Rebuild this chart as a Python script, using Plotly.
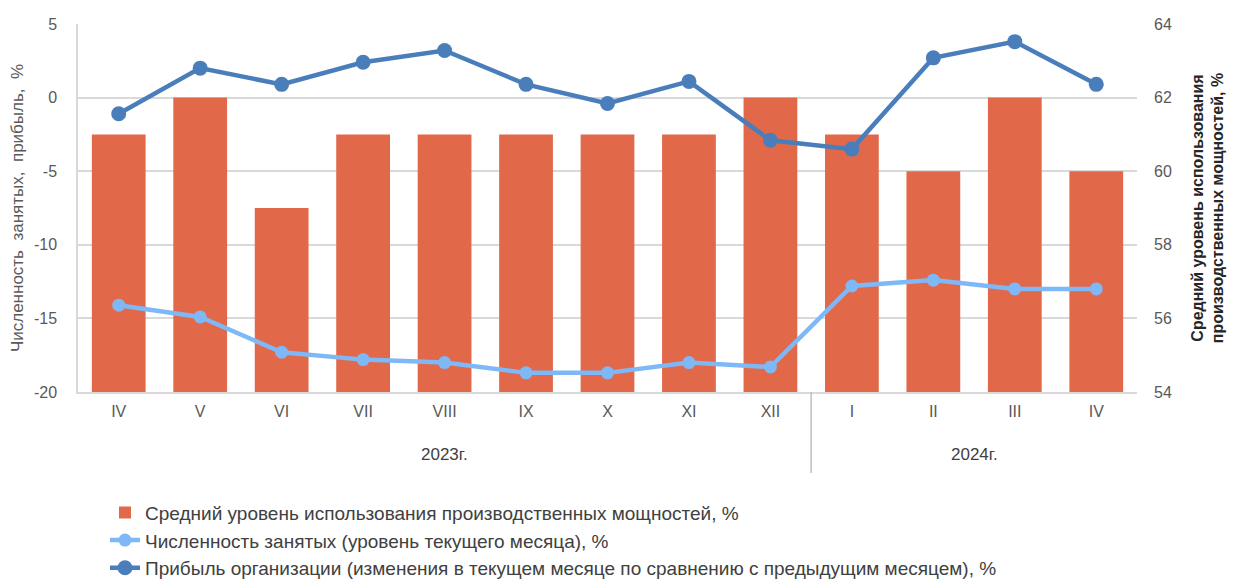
import plotly.graph_objects as go

months = ["IV", "V", "VI", "VII", "VIII", "IX", "X", "XI", "XII", "I", "II", "III", "IV"]
years = ["2023г."] * 9 + ["2024г."] * 4
capacity = [61, 62, 59, 61, 61, 61, 61, 61, 62, 61, 60, 62, 60]
employment = [-14.1, -14.9, -17.3, -17.8, -18.0, -18.7, -18.7, -18.0, -18.3, -12.8, -12.4, -13.0, -13.0]
profit = [-1.1, 2.0, 0.9, 2.4, 3.2, 0.9, -0.4, 1.1, -2.9, -3.5, 2.7, 3.8, 0.9]
left_ticks = [-20, -15, -10, -5, 0, 5]
right_ticks = [54, 56, 58, 60, 62, 64]

x_idx = list(range(len(months)))

fig = go.Figure()
fig.add_trace(go.Bar(
    x=x_idx, y=capacity, yaxis="y",
    name="Средний уровень использования производственных мощностей, %",
    marker=dict(color="#E2684A", line=dict(width=0)),
))
fig.add_trace(go.Scatter(
    x=x_idx, y=employment, yaxis="y2", mode="lines+markers",
    name="Численность занятых (уровень текущего месяца), %",
    line=dict(color="#7EB8F6", width=4.5),
    marker=dict(color="#7EB8F6", size=13),
))
fig.add_trace(go.Scatter(
    x=x_idx, y=profit, yaxis="y2", mode="lines+markers",
    name="Прибыль организации (изменения в текущем месяце по сравнению с предыдущим месяцем), %",
    line=dict(color="#4A7EBB", width=4.5),
    marker=dict(color="#4A7EBB", size=15),
))

# year group labels and divider derived from data
groups = []
for i, yv in enumerate(years):
    if not groups or groups[-1][0] != yv:
        groups.append([yv, i, i])
    else:
        groups[-1][2] = i
annotations = []
shapes = []
for gname, s, e in groups:
    annotations.append(dict(
        x=(s + e) / 2, xref="x", y=-0.17, yref="paper", text=gname,
        showarrow=False, font=dict(size=17, color="#404040"),
        xanchor="center", yanchor="middle",
    ))
for gname, s, e in groups[1:]:
    shapes.append(dict(
        type="line", xref="x", yref="paper", x0=s - 0.5, x1=s - 0.5,
        y0=0, y1=-0.22, line=dict(color="#BFBFBF", width=1.5),
    ))

font_family = "Liberation Sans, Arial, sans-serif"
fig.update_layout(
    width=1227, height=573,
    margin=dict(l=70, r=98, t=16, b=189, autoexpand=False),
    plot_bgcolor="white", paper_bgcolor="white",
    font=dict(family=font_family, color="#595959"),
    bargap=0.34,
    showlegend=True,
    legend=dict(
        orientation="v", x=0.0255, xanchor="left", y=-0.276, yanchor="top",
        font=dict(size=19, color="#404040", family=font_family),
        traceorder="normal", itemwidth=30, tracegroupgap=0,
        bgcolor="rgba(0,0,0,0)",
    ),
    xaxis=dict(
        type="linear", tickmode="array", tickvals=x_idx, ticktext=months,
        range=[-0.5, len(months) - 0.5], automargin=False,
        showgrid=False, zeroline=False,
        showline=True, linecolor="#D9D9D9", linewidth=1.5,
        tickfont=dict(size=16, color="#595959"), ticks="", ticklabelstandoff=4,
    ),
    yaxis=dict(
        side="right", range=[54, 64], automargin=False,
        tickmode="array", tickvals=right_ticks, ticktext=[str(v) for v in right_ticks],
        showgrid=True, gridcolor="#D9D9D9", gridwidth=1.5,
        zeroline=False, showline=False,
        tickfont=dict(size=16, color="#595959"), ticklabelstandoff=16,
        title=dict(
            text="<b>Средний уровень использования<br>производственных мощностей, %</b>",
            font=dict(size=16, color="#262626"), standoff=20,
        ),
    ),
    yaxis2=dict(
        side="left", overlaying="y", range=[-20, 5], automargin=False,
        tickmode="array", tickvals=left_ticks, ticktext=[str(v) for v in left_ticks],
        showgrid=False, zeroline=False,
        showline=True, linecolor="#D9D9D9", linewidth=1.5,
        tickfont=dict(size=16, color="#595959"), ticklabelstandoff=16,
        title=dict(
            text="Численность  занятых,  прибыль,  %",
            font=dict(size=17, color="#595959"), standoff=6,
        ),
    ),
    annotations=annotations,
    shapes=shapes,
)

fig.write_html("out.html")
